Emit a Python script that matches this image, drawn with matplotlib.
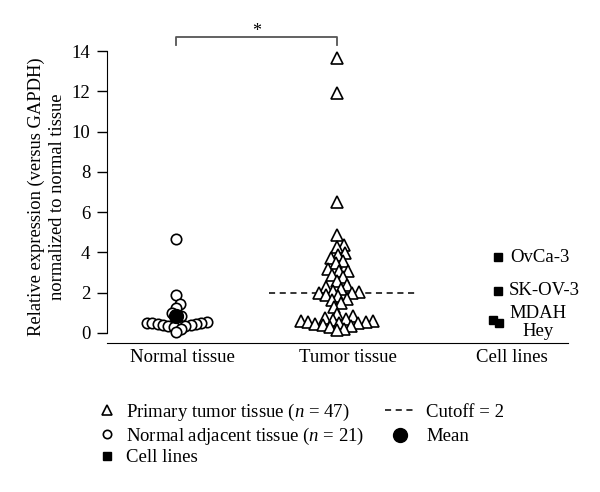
import numpy as np
import matplotlib
matplotlib.use("Agg")
import matplotlib.pyplot as plt
from matplotlib.lines import Line2D

plt.rcParams['font.family'] = ['Liberation Serif', 'DejaVu Serif']
plt.rcParams['mathtext.fontset'] = 'custom'
plt.rcParams['mathtext.it'] = 'Liberation Serif:italic'
plt.rcParams['mathtext.rm'] = 'Liberation Serif'

# Data
categories = ["Normal tissue", "Tumor tissue", "Cell lines"]
normal = [4.65, 1.9, 1.45, 1.25, 1.0, 0.85, 0.8, 0.55, 0.5, 0.5, 0.5,
          0.45, 0.45, 0.45, 0.4, 0.4, 0.35, 0.35, 0.3, 0.2, 0.05]
tumor = [13.65, 11.9, 6.5,
         4.85, 4.35, 4.25, 3.95, 3.85, 3.7, 3.55, 3.45, 3.2, 3.1, 3.1, 2.9, 2.8,
         2.6, 2.4, 2.3, 2.2, 2.1, 2.05, 2.0, 2.0, 1.9, 1.85, 1.7, 1.65, 1.5, 1.3,
         0.95, 0.85, 0.75, 0.7, 0.65, 0.6, 0.6, 0.55, 0.55, 0.5, 0.5, 0.45, 0.4,
         0.35, 0.3, 0.2, 0.15]
cell_names = ["OvCa-3", "SK-OV-3", "MDAH", "Hey"]
cell_values = [3.75, 2.1, 0.65, 0.5]
cutoff = 2
yticks = [0, 2, 4, 6, 8, 10, 12, 14]

FS = 13.5

fig = plt.figure(figsize=(6, 4.92), dpi=100)
ax = fig.add_axes([0.1783, 0.3028, 0.7683, 0.5935])
ax.set_xlim(0.571, 3.436)
ax.set_ylim(-0.5, 14)


def swarm(xc, values, d):
    # simple beeswarm in pixel space
    pts = ax.transData.transform([(xc, v) for v in values])
    order = np.argsort(values)
    placed = []
    out = np.zeros(len(values))
    for i in order:
        y = pts[i, 1]
        cands = [0.0]
        for (px, py) in placed:
            dy = abs(py - y)
            if dy < d:
                dx = np.sqrt(d * d - dy * dy)
                cands += [px + dx, px - dx]
        cands = sorted(cands, key=abs)
        for c in cands:
            ok = all((c - px) ** 2 + (y - py) ** 2 >= d * d - 1e-6 for px, py in placed)
            if ok:
                break
        placed.append((c, y))
        out[i] = c
    xs = ax.transData.inverted().transform(
        np.column_stack([pts[:, 0] + out, pts[:, 1]]))[:, 0]
    return xs


nx = swarm(1, normal, 5.5)
tx = swarm(2, tumor, 7.5)

ax.plot(tx, tumor, linestyle='none', marker='^', ms=9, mfc='white',
        mec='black', mew=1.2, zorder=3)
ax.plot(nx, normal, linestyle='none', marker='o', ms=7.5, mfc='white',
        mec='black', mew=1.2, zorder=3)
ax.plot([1], [np.mean(normal)], linestyle='none', marker='o', ms=10,
        color='black', zorder=4)

cell_dx = [0, 0, -0.03, 0.005]
ax.plot([3 + d for d in cell_dx], cell_values, linestyle='none', marker='s',
        ms=5.5, color='black', zorder=3)
ax.text(3.08, cell_values[0], cell_names[0], fontsize=FS, va='center', ha='left')
ax.text(3.07, cell_values[1], cell_names[1], fontsize=FS, va='center', ha='left')
ax.text(3.25, cell_values[2] + 0.3, cell_names[2], fontsize=FS, va='center', ha='center')
ax.text(3.25, cell_values[3] - 0.45, cell_names[3], fontsize=FS, va='center', ha='center')

ax.hlines(cutoff, 1.58, 2.49, colors='black', linestyles=(0, (4, 3)), lw=1.1, zorder=2)

# significance bracket
ax.plot([1, 1, 2, 2], [14.3, 14.7, 14.7, 14.3], color='#555555', lw=1.3, clip_on=False)
ax.text(1.5, 14.55, "*", ha='center', va='bottom', fontsize=13)

ax.spines['top'].set_visible(False)
ax.spines['right'].set_visible(False)
ax.spines['left'].set_bounds(0, 14)
ax.set_yticks(yticks)
ax.set_yticklabels([str(t) for t in yticks], fontsize=FS)
ax.tick_params(axis='y', direction='out', length=7, width=1, pad=5)
ax.set_xticks([])
for xi, lab in zip([1.04, 2.07, 3.09], categories):
    ax.text(xi, -0.8, lab, ha='center', va='top', fontsize=FS)

ax.set_ylabel("Relative expression (versus GAPDH)\nnormalized to normal tissue",
              fontsize=13.3, linespacing=1.3, labelpad=4)

# legend, two separate columns
h1 = [
    Line2D([], [], ls='none', marker='^', ms=7, mfc='white', mec='black', mew=1.2),
    Line2D([], [], ls='none', marker='o', ms=6, mfc='white', mec='black', mew=1.2),
    Line2D([], [], ls='none', marker='s', ms=5.5, color='black'),
]
l1 = ["Primary tumor tissue ($n$ = 47)", "Normal adjacent tissue ($n$ = 21)",
      "Cell lines"]
h2 = [
    Line2D([], [], ls=(0, (4, 3)), color='black', lw=1.1),
    Line2D([], [], ls='none', marker='o', ms=10, color='black'),
]
l2 = ["Cutoff = 2", "Mean"]
fig.legend(h1, l1, loc='upper left', bbox_to_anchor=(0.153, 0.183),
           frameon=False, fontsize=FS, handlelength=1.6,
           handletextpad=0.2, labelspacing=0.13,
           borderaxespad=0, borderpad=0)
fig.legend(h2, l2, loc='upper left', bbox_to_anchor=(0.641, 0.179),
           frameon=False, fontsize=FS, handlelength=1.6,
           handletextpad=0.62, labelspacing=0.38,
           borderaxespad=0, borderpad=0)

fig.savefig("out.png", dpi=100)
